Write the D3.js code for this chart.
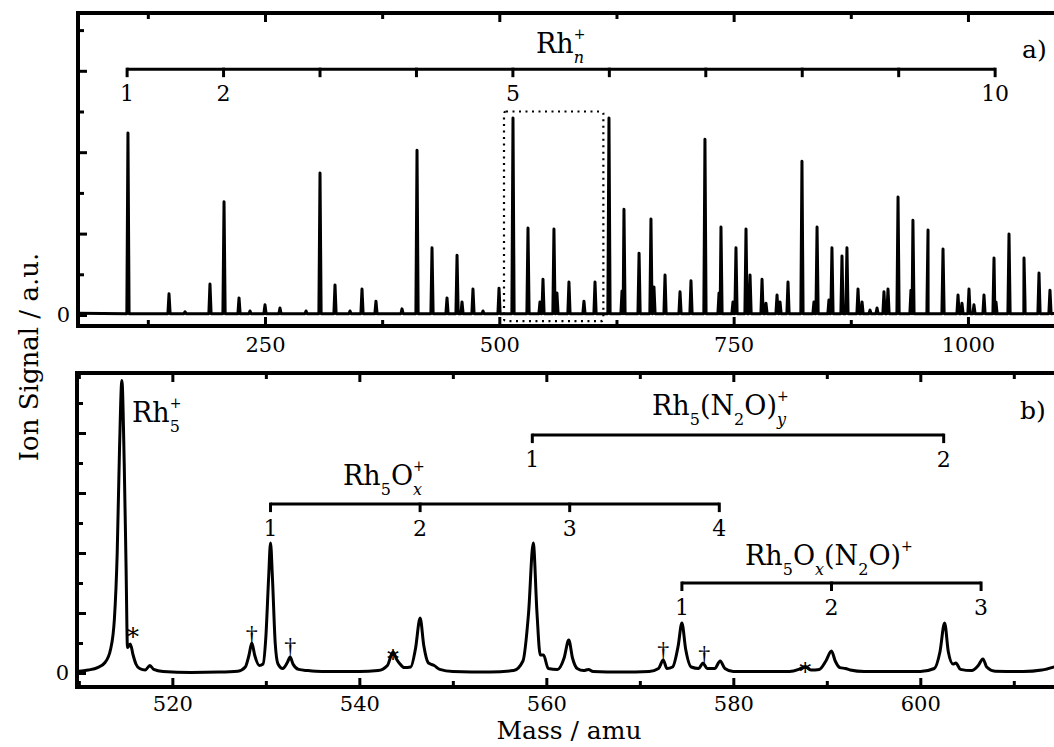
<!DOCTYPE html>
<html>
<head>
<meta charset="utf-8">
<script src="https://cdn.jsdelivr.net/npm/d3@7"></script>
<style>
  body { margin: 0; background: #fff; }
  svg { display: block; }
  text { font-family: "DejaVu Serif", serif; fill: #000; }
</style>
</head>
<body>
<svg id="chart" width="1054" height="747"></svg>
<script>
// panel a) peak list: mass (amu) and height (a.u.)
let topMass = [103.8, 147.6, 164.7, 191.3, 206.3, 222.3, 234, 250, 266, 293.8,
    308.7, 324.7, 340.7, 353.5, 368.4, 396.2, 412.2, 428.2, 444.2, 454.9,
    460.2, 471.9, 482.6, 499.7, 514.6, 530.6, 543.4, 546.6, 558.3, 561.5,
    574.3, 590.3, 602.1, 617.0, 630.9, 633.0, 649.1, 661.8, 665.0, 676.8,
    692.8, 704.5, 719.4, 734.4, 736.5, 749.3, 752.5, 763.2, 767.5, 780.3,
    784.5, 796.3, 799.5, 808.0, 822.9, 835.7, 839.0, 851.7, 854.9, 865.6,
    870.9, 882.7, 887.0, 895.5, 903.0, 910.4, 914.7, 925.4, 939.2, 941.3,
    956.3, 957.4, 973.4, 989.4, 993.6, 1001.1, 1006.4, 1017.1, 1027.8, 1029.9,
    1043.8, 1059.8, 1060.8, 1075.8, 1087.5]
let topSignal = [4.47, 0.52, 0.08, 0.76, 2.78, 0.42, 0.1, 0.25, 0.17, 0.1,
    3.49, 0.74, 0.1, 0.64, 0.34, 0.15, 4.05, 1.65, 0.42, 1.47,
    0.32, 0.64, 0.1, 0.66, 4.84, 2.14, 0.32, 0.88, 2.11, 0.54,
    0.81, 0.34, 0.81, 4.84, 0.59, 2.6, 1.52, 2.36, 0.69, 0.98,
    0.57, 0.84, 4.32, 0.54, 2.16, 0.32, 1.65, 2.11, 0.98, 0.88,
    0.29, 0.49, 0.32, 0.81, 3.78, 0.32, 2.16, 0.37, 1.65, 1.45,
    1.65, 0.64, 0.32, 0.12, 0.17, 0.57, 0.64, 2.9, 0.61, 2.33,
    0.29, 2.09, 1.62, 0.49, 0.29, 0.64, 0.25, 0.49, 1.4, 0.32,
    1.99, 1.4, 0.37, 1.03, 0.61]

// panel b) trace, mass (amu) and signal (a.u.)
let botMass = [509.8, 511.0, 512.0, 512.8, 513.4, 513.8, 514.1, 514.35, 514.6, 514.85,
    515.05, 515.2, 515.5, 515.8, 516.1, 516.5, 517.1, 517.6, 518.0, 519,
    522, 525, 527, 527.8, 528.2, 528.5, 528.8, 529.3, 529.7, 530.0,
    530.3, 530.5, 530.7, 531.0, 531.3, 531.8, 532.3, 532.6, 532.9, 533.5,
    534.5, 536, 540, 542, 543.0, 543.6, 544.0, 544.35, 544.8, 545.5,
    546.0, 546.5, 546.9, 547.35, 547.6, 548.0, 548.6, 550, 554, 556.5,
    557.5, 558.1, 558.6, 559.0, 559.35, 559.7, 560.2, 561.2, 561.9, 562.4,
    562.8, 563.3, 564.0, 564.5, 565.0, 568, 571, 572.0, 572.5, 572.9,
    573.5, 574.1, 574.5, 574.9, 575.5, 576.3, 576.75, 577.2, 578.0, 578.6,
    579.1, 580, 582, 586, 587.0, 587.7, 588.3, 589.2, 589.9, 590.5,
    590.9, 591.4, 592.0, 592.5, 594, 600, 601.5, 602.1, 602.6, 603.0,
    603.5, 603.8, 604.3, 605.5, 606.2, 606.7, 607.1, 608, 611, 613, 614.5]
let botSignal = [0.05, 0.1, 0.18, 0.35, 0.8, 1.8, 4.0, 7.5, 9.75, 7.0,
    3.5, 0.85, 0.97, 0.6, 0.3, 0.15, 0.1, 0.25, 0.12, 0.05,
    0.02, 0.03, 0.06, 0.2, 0.6, 1.0, 0.6, 0.25, 0.3, 1.2,
    3.2, 4.33, 3.2, 1.0, 0.3, 0.15, 0.35, 0.53, 0.3, 0.12,
    0.08, 0.05, 0.05, 0.08, 0.25, 0.7, 0.45, 0.3, 0.18, 0.2,
    0.8, 1.83, 0.9, 0.35, 0.3, 0.25, 0.12, 0.05, 0.03, 0.08,
    0.4, 2.0, 4.33, 2.0, 0.6, 0.6, 0.15, 0.12, 0.5, 1.1,
    0.5, 0.15, 0.08, 0.12, 0.05, 0.03, 0.05, 0.15, 0.43, 0.15,
    0.2, 0.9, 1.67, 0.8, 0.2, 0.15, 0.33, 0.15, 0.15, 0.4,
    0.15, 0.05, 0.05, 0.05, 0.12, 0.22, 0.1, 0.12, 0.4, 0.73,
    0.4, 0.18, 0.15, 0.1, 0.05, 0.05, 0.15, 0.7, 1.67, 0.7,
    0.3, 0.33, 0.12, 0.08, 0.25, 0.47, 0.2, 0.06, 0.05, 0.1, 0.22]

// axis ticks
let topMajor = [250, 500, 750, 1000]
let topMinor = [125, 375, 625, 875, 1125]
let botMajor = [520, 540, 560, 580, 600]
let botMinor = [510, 530, 550, 570, 590, 610]

// cluster series labels
let rhN = [1, 2, 3, 4, 5, 6, 7, 8, 9, 10]
let rhNShown = [1, 2, 5, 10]
let rhMass = 102.9
let oxMass = [530.5, 546.5, 562.5, 578.5]
let oxLabels = ['1', '2', '3', '4']
let n2oMass = [558.5, 602.5]
let n2oLabels = ['1', '2']
let oxn2oMass = [574.5, 590.5, 606.5]
let oxn2oLabels = ['1', '2', '3']

// markers: * and dagger
let starMass = [515.8, 543.6, 587.7]
let starY = [1.33, 0.6, 0.17]
let daggerMass = [528.5, 532.6, 572.5, 576.9]
let daggerY = [1.33, 0.93, 0.8, 0.67]

let width = 1054,
    height = 747

let svg = d3.select('#chart')

// scales
let xTop = d3.scaleLinear().domain([50.5, 1091.8]).range([78, 1054])
let yTop = d3.scaleLinear().domain([0, 7]).range([315, 30.1])
let xBot = d3.scaleLinear().domain([509.8, 614.3]).range([77, 1054])
let yBot = d3.scaleLinear().domain([0, 9]).range([673, 403])

let topBox = {l: 78, t: 13, b: 326, pad: 11}
let botBox = {l: 77, t: 373, b: 687, pad: 9}

svg.append('clipPath').attr('id', 'clipTop')
    .append('rect').attr('x', topBox.l).attr('y', topBox.t).attr('width', 1000).attr('height', topBox.b - topBox.t)
svg.append('clipPath').attr('id', 'clipBot')
    .append('rect').attr('x', botBox.l).attr('y', botBox.t).attr('width', 1000).attr('height', botBox.b - botBox.t)

// ---- panel a) spectrum, every peak as a narrow spike
let spikePts = []
topMass.forEach((m, i) => {
    spikePts.push([m - 1.2, 0.03], [m, topSignal[i]], [m + 1.2, 0.03])
})
spikePts.sort((a, b) => a[0] - b[0])
spikePts.unshift([50.5, 0.04])
spikePts.push([1095, 0.04])

let lineTop = d3.line().x(d => xTop(d[0])).y(d => yTop(d[1]))
svg.append('path')
    .attr('clip-path', 'url(#clipTop)')
    .attr('d', lineTop(spikePts))
    .attr('fill', 'none')
    .attr('stroke', '#000')
    .attr('stroke-width', 3)
    .attr('stroke-linejoin', 'round')

// ---- panel b) trace
let lineBot = d3.line().x(d => xBot(d)).y((d, i) => yBot(botSignal[i])).curve(d3.curveMonotoneX)
svg.append('path')
    .attr('clip-path', 'url(#clipBot)')
    .attr('d', lineBot(botMass))
    .attr('fill', 'none')
    .attr('stroke', '#000')
    .attr('stroke-width', 3)
    .attr('stroke-linejoin', 'round')

// ---- axes (inward ticks, frame drawn separately)
function drawAxes(x, y, box, major, minor, yMajor, yMinor, xFmt) {
    let g = svg.append('g')
    g.append('g').attr('transform', `translate(0,${box.b})`)
        .call(d3.axisBottom(x).tickValues(major).tickSize(-9).tickPadding(box.pad).tickFormat(xFmt))
    g.append('g').attr('transform', `translate(0,${box.b})`)
        .call(d3.axisBottom(x).tickValues(minor).tickSize(-6).tickFormat(''))
    g.append('g').attr('transform', `translate(0,${box.t})`)
        .call(d3.axisTop(x).tickValues(major).tickSize(-9).tickFormat(''))
    g.append('g').attr('transform', `translate(0,${box.t})`)
        .call(d3.axisTop(x).tickValues(minor).tickSize(-6).tickFormat(''))
    g.append('g').attr('transform', `translate(${box.l},0)`)
        .call(d3.axisLeft(y).tickValues(yMajor).tickSize(-9).tickPadding(8).tickFormat(d => d === 0 ? '0' : ''))
    g.append('g').attr('transform', `translate(${box.l},0)`)
        .call(d3.axisLeft(y).tickValues(yMinor).tickSize(-6).tickFormat(''))
    g.selectAll('.domain').remove()
    g.selectAll('.tick line').attr('stroke', '#000').attr('stroke-width', 3)
    g.selectAll('.tick text').attr('font-size', 21).attr('font-family', '"DejaVu Serif", serif')
    // frame
    g.append('path')
        .attr('d', `M1070,${box.t}H${box.l}V${box.b}H1070`)
        .attr('fill', 'none').attr('stroke', '#000').attr('stroke-width', 4)
}
drawAxes(xTop, yTop, topBox, topMajor, topMinor, [0, 2, 4, 6], [1, 3, 5, 7], d3.format('d'))
drawAxes(xBot, yBot, botBox, botMajor, botMinor, [0, 2, 4, 6, 8], [1, 3, 5, 7, 9], d3.format('d'))

// ---- dotted zoom box in panel a)
svg.append('rect')
    .attr('x', xTop(505)).attr('y', yTop(5.0))
    .attr('width', xTop(611) - xTop(505)).attr('height', yTop(-0.15) - yTop(5.0))
    .attr('fill', 'none').attr('stroke', '#000').attr('stroke-width', 2.2)
    .attr('stroke-dasharray', '2,4.5').attr('rx', 2)

// ---- chemical formula labels with stacked sub/superscripts
function chem(x, y, parts, size) {
    let g = svg.append('g')
    let cx = x
    let sSize = 16
    parts.forEach(p => {
        if (typeof p === 'string') {
            let t = g.append('text').attr('x', cx).attr('y', y).attr('font-size', size).text(p)
            cx += t.node().getComputedTextLength()
        } else {
            let w = 0
            if (p.sub) {
                let t = g.append('text').attr('x', cx).attr('y', y + 10).attr('font-size', sSize)
                    .attr('font-style', p.it ? 'italic' : 'normal').text(p.sub)
                w = Math.max(w, t.node().getComputedTextLength())
            }
            if (p.sup) {
                let t = g.append('text').attr('x', cx).attr('y', y - 14).attr('font-size', sSize - 2).text(p.sup)
                w = Math.max(w, t.node().getComputedTextLength() * 0.75)
            }
            cx += w
        }
    })
}

chem(536, 53, ['Rh', {sub: 'n', it: true, sup: '+'}], 27)
chem(132, 422, ['Rh', {sub: '5', sup: '+'}], 27)
chem(343, 485, ['Rh', {sub: '5'}, 'O', {sub: 'x', it: true, sup: '+'}], 27)
chem(652, 415, ['Rh', {sub: '5'}, '(N', {sub: '2'}, 'O)', {sub: 'y', it: true, sup: '+'}], 27)
chem(745, 565, ['Rh', {sub: '5'}, 'O', {sub: 'x', it: true}, '(N', {sub: '2'}, 'O)', {sup: '+'}], 27)

svg.append('text').attr('x', 1022).attr('y', 58).attr('font-size', 25).text('a)')
svg.append('text').attr('x', 1020).attr('y', 419).attr('font-size', 25).text('b)')

// ---- brackets
function bracket(x, yPx, ticks, labels, shown) {
    let g = svg.append('g')
    g.append('line')
        .attr('x1', x(ticks[0])).attr('x2', x(ticks[ticks.length - 1]))
        .attr('y1', yPx).attr('y2', yPx)
        .attr('stroke', '#000').attr('stroke-width', 3)
    g.selectAll('line.tk').data(ticks).enter().append('line')
        .attr('class', 'tk')
        .attr('x1', d => x(d)).attr('x2', d => x(d))
        .attr('y1', yPx - 1.5).attr('y2', yPx + 8)
        .attr('stroke', '#000').attr('stroke-width', 3)
    let lab = ticks.map((d, i) => ({m: d, t: labels[i], show: shown(i)})).filter(d => d.show)
    g.selectAll('text').data(lab).enter().append('text')
        .attr('x', d => x(d.m)).attr('y', yPx + 32)
        .attr('text-anchor', 'middle').attr('font-size', 22)
        .text(d => d.t)
}
bracket(xTop, yTop(6.04), rhN.map(n => n * rhMass), rhN.map(String), i => rhNShown.includes(rhN[i]))
bracket(xBot, yBot(7.93), n2oMass, n2oLabels, () => true)
bracket(xBot, yBot(5.63), oxMass, oxLabels, () => true)
bracket(xBot, yBot(3.0), oxn2oMass, oxn2oLabels, () => true)

// ---- markers
svg.selectAll('text.star').data(starMass).enter().append('text')
    .attr('class', 'star')
    .attr('x', d => xBot(d)).attr('y', (d, i) => yBot(starY[i]) + 12)
    .attr('text-anchor', 'middle').attr('font-size', 24).text('*')
svg.selectAll('text.dag').data(daggerMass).enter().append('text')
    .attr('class', 'dag')
    .attr('x', d => xBot(d)).attr('y', (d, i) => yBot(daggerY[i]) + 9)
    .attr('text-anchor', 'middle').attr('font-size', 24)
    .style('font-family', '"Liberation Serif", serif').style('fill', '#000')
    .text('\u2020')

// ---- axis titles
svg.append('text')
    .attr('transform', 'translate(38,357) rotate(-90)')
    .attr('text-anchor', 'middle').attr('font-size', 26)
    .text('Ion Signal / a.u.')
svg.append('text')
    .attr('x', 569).attr('y', 739)
    .attr('text-anchor', 'middle').attr('font-size', 25)
    .text('Mass / amu')
</script>
</body>
</html>
